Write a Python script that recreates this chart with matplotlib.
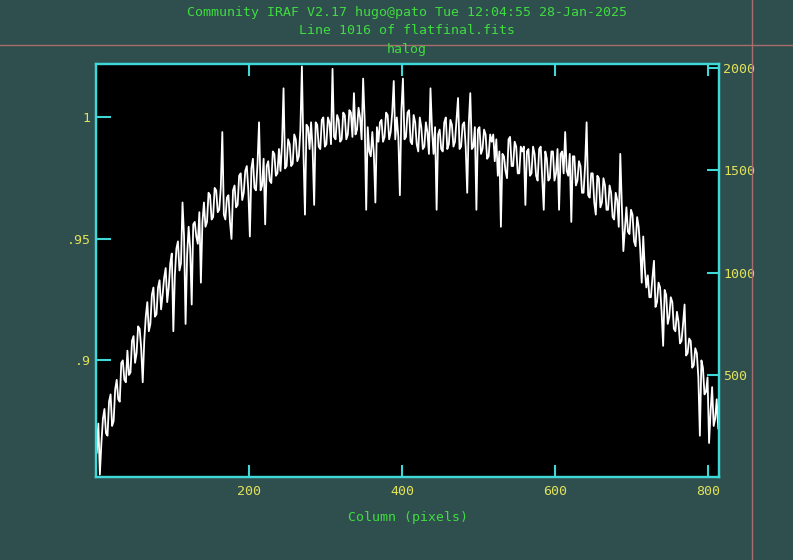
"""
IRAF implot style: line 1016 of flatfinal.fits
"""

import matplotlib
matplotlib.use('Agg')
import matplotlib.pyplot as plt
import numpy as np
from matplotlib.lines import Line2D

# Colors
bg = '#2f4f4f'
cyan = '#3fd8d8'
yellow = '#e2e25a'
green = '#3fdc3f'
cross = '#a86c6c'

FONT = 'DejaVu Sans Mono'

title_lines = ['Community IRAF V2.17 hugo@pato Tue 12:04:55 28-Jan-2025',
               'Line 1016 of flatfinal.fits',
               'halog']
xlabel = 'Column (pixels)'

left_ticks = [0.9, 0.95, 1.0]
left_labels = ['.9', '.95', '1']
right_ticks = [500, 1000, 1500, 2000]
bottom_ticks = [200, 400, 600, 800]

# normalised flat values, read at columns 1, 5, 9, ... 813
flat = [
    0.862, 0.853, 0.876, 0.870, 0.883, 0.873, 0.888, 0.884, 0.899, 0.892,
    0.904, 0.895, 0.910, 0.903, 0.913, 0.891, 0.918, 0.912, 0.927, 0.918,
    0.930, 0.921, 0.934, 0.924, 0.940, 0.912, 0.946, 0.937, 0.965, 0.915,
    0.955, 0.923, 0.957, 0.948, 0.932, 0.965, 0.957, 0.968, 0.959, 0.970,
    0.962, 0.994, 0.958, 0.968, 0.950, 0.972, 0.964, 0.977, 0.969, 0.980,
    0.951, 0.983, 0.970, 0.998, 0.972, 0.956, 0.982, 0.973, 0.985, 0.977,
    0.978, 1.012, 0.980, 0.989, 0.981, 0.991, 0.984, 1.021, 0.960, 0.996,
    0.998, 0.964, 0.997, 0.987, 1.000, 0.989, 0.998, 1.020, 0.991, 0.999,
    0.991, 1.001, 0.993, 1.002, 1.010, 0.995, 1.000, 1.016, 0.962, 0.986,
    0.994, 0.965, 0.990, 0.999, 0.992, 1.001, 0.994, 1.015, 1.000, 0.968,
    1.016, 0.992, 1.003, 0.989, 0.998, 0.986, 0.996, 0.988, 0.994, 1.012,
    0.985, 0.962, 0.995, 0.986, 1.000, 0.989, 0.997, 0.990, 1.008, 0.988,
    0.998, 0.969, 1.010, 0.988, 0.962, 0.996, 0.987, 0.993, 0.984, 0.990,
    0.982, 0.976, 0.955, 0.984, 0.975, 0.992, 0.980, 0.988, 0.977, 0.986,
    0.964, 0.987, 0.977, 0.985, 0.974, 0.988, 0.962, 0.983, 0.975, 0.986,
    0.977, 0.962, 0.986, 0.994, 0.976, 0.957, 0.984, 0.974, 0.980, 0.969,
    0.998, 0.967, 0.977, 0.960, 0.975, 0.965, 0.972, 0.962, 0.969, 0.958,
    0.966, 0.985, 0.945, 0.963, 0.952, 0.960, 0.947, 0.955, 0.932, 0.938,
    0.935, 0.926, 0.941, 0.924, 0.930, 0.906, 0.927, 0.918, 0.924, 0.912,
    0.916, 0.908, 0.923, 0.903, 0.908, 0.898, 0.903, 0.869, 0.897, 0.887,
    0.866, 0.889, 0.876, 0.872,
]
# values at the columns in between (3, 7, 11, ... 811)
flat_mid = [
    0.874, 0.866, 0.880, 0.869, 0.886, 0.875, 0.892, 0.883, 0.900, 0.891,
    0.894, 0.908, 0.899, 0.914, 0.905, 0.908, 0.924, 0.915, 0.930, 0.919,
    0.933, 0.927, 0.938, 0.930, 0.944, 0.935, 0.949, 0.940, 0.951, 0.943,
    0.946, 0.956, 0.951, 0.961, 0.957, 0.955, 0.969, 0.958, 0.971, 0.961,
    0.971, 0.960, 0.967, 0.957, 0.970, 0.963, 0.976, 0.966, 0.978, 0.970,
    0.979, 0.971, 0.981, 0.970, 0.983, 0.980, 0.974, 0.986, 0.976, 0.987,
    0.989, 0.979, 0.991, 0.980, 0.993, 0.982, 0.995, 0.986, 0.997, 0.987,
    0.987, 0.998, 0.988, 0.999, 0.988, 1.000, 0.989, 0.992, 1.001, 0.990,
    1.002, 0.991, 1.003, 0.992, 0.993, 1.004, 0.991, 0.999, 0.996, 0.984,
    0.985, 0.996, 0.998, 0.990, 1.002, 0.991, 1.002, 0.991, 0.992, 1.003,
    0.991, 1.002, 0.990, 1.001, 0.989, 1.000, 0.987, 0.998, 0.985, 0.995,
    0.996, 0.993, 0.987, 0.998, 0.987, 0.999, 0.988, 0.999, 0.987, 0.997,
    0.988, 0.997, 0.987, 0.996, 0.995, 0.985, 0.995, 0.983, 0.993, 0.993,
    0.991, 0.986, 0.985, 0.978, 0.991, 0.980, 0.990, 0.977, 0.988, 0.988,
    0.986, 0.976, 0.988, 0.976, 0.987, 0.975, 0.986, 0.974, 0.986, 0.974,
    0.987, 0.985, 0.977, 0.978, 0.985, 0.984, 0.972, 0.982, 0.969, 0.980,
    0.968, 0.977, 0.965, 0.976, 0.963, 0.975, 0.962, 0.972, 0.959, 0.969,
    0.955, 0.964, 0.954, 0.953, 0.962, 0.949, 0.959, 0.946, 0.951, 0.930,
    0.926, 0.934, 0.922, 0.932, 0.920, 0.929, 0.915, 0.926, 0.913, 0.920,
    0.907, 0.915, 0.902, 0.909, 0.897, 0.905, 0.893, 0.900, 0.886, 0.893,
    0.879, 0.873, 0.884,
]

values = np.empty(len(flat) + len(flat_mid))
values[0::2] = flat
values[1::2] = flat_mid
cols = np.arange(1, 2 * len(values), 2)

fig = plt.figure(figsize=(7.93, 5.60), dpi=100, facecolor=bg)
ax = fig.add_axes([0.1211, 0.1482, 0.7856, 0.7375])
ax.set_facecolor('black')

ax.plot(cols, values, color='white', linewidth=1.3)
ax.set_xlim(0, 814)
ax.set_ylim(0.852, 1.022)

for s in ax.spines.values():
    s.set_color(cyan)
    s.set_linewidth(1.6)

ax.set_yticks(left_ticks)
ax.set_yticklabels(left_labels)
ax.set_xticks(bottom_ticks)
ax.set_xticklabels([str(t) for t in bottom_ticks])
ax.tick_params(axis='y', direction='in', length=11, width=1.5, color=cyan,
               labelcolor=yellow, labelsize=9.5, pad=4)
ax.tick_params(axis='x', direction='in', length=8.5, width=1.5, color=cyan,
               labelcolor=yellow, labelsize=9.5, pad=6, top=True)
for lab in ax.get_xticklabels() + ax.get_yticklabels():
    lab.set_family(FONT)

ax2 = ax.twinx()
ax2.set_ylim(0, 2020)
ax2.set_yticks(right_ticks)
ax2.set_yticklabels([str(t) for t in right_ticks])
ax2.tick_params(axis='y', direction='in', length=9, width=1.5, color=cyan,
                labelcolor=yellow, labelsize=9.5, pad=3)
for lab in ax2.get_yticklabels():
    lab.set_family(FONT)
for s in ax2.spines.values():
    s.set_color(cyan)
    s.set_linewidth(1.6)

ax.set_xlabel(xlabel, color=green, fontsize=9.5, family=FONT, labelpad=9)

# header lines
fig.text(0.513, 1 - 12.5 / 560, title_lines[0], ha='center', va='center',
         color=green, fontsize=9.5, family=FONT)
fig.text(0.513, 1 - 31 / 560, title_lines[1], ha='center', va='center',
         color=green, fontsize=9.5, family=FONT)
fig.text(0.513, 1 - 49 / 560, title_lines[2], ha='center', va='center',
         color=green, fontsize=9.5, family=FONT)

# cursor crosshair
fig.add_artist(Line2D([0, 1], [1 - 45 / 560] * 2, color=cross, linewidth=1.0))
fig.add_artist(Line2D([752 / 793] * 2, [0, 1], color=cross, linewidth=1.0))

fig.savefig('out.png', dpi=100, facecolor=bg)
plt.close()
